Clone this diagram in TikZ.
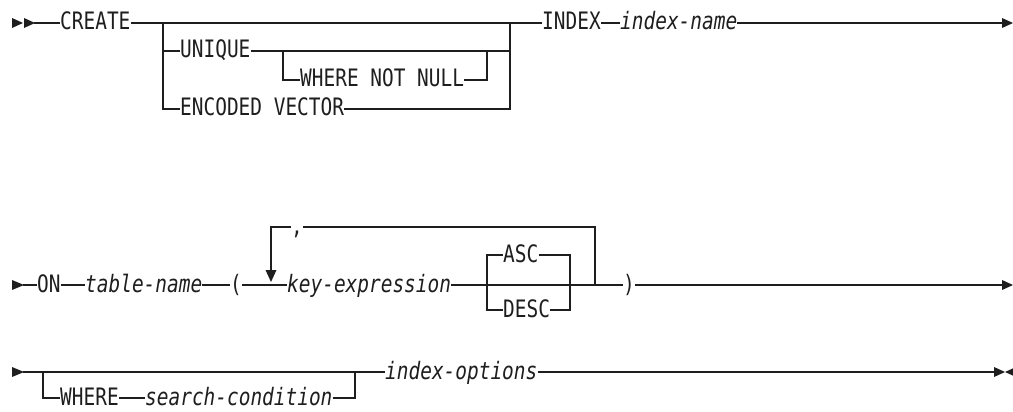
\documentclass[tikz,border=0pt]{standalone}
\usepackage{fontspec}
\newfontfamily\dmono[FakeStretch=0.81]{DejaVu Sans Mono}
\definecolor{ink}{HTML}{1E1E1E}
\begin{document}
\begin{tikzpicture}[x=1pt,y=-1pt,
  kw/.style={anchor=west,inner sep=0pt,text height=14pt,text depth=0pt,font=\dmono\fontsize{24}{26}\selectfont,text=ink},
  var/.style={kw,font=\dmono\itshape\fontsize{24}{26}\selectfont},
  rail/.style={draw=ink,line width=1.3pt},
  tip/.style={fill=ink}]
\useasboundingbox (0,0) rectangle (1013,412);

% ---------- Row 1 ----------
\fill[tip] (12,18) -- (23,23) -- (12,28) -- cycle;
\fill[tip] (24,18) -- (35,23) -- (24,28) -- cycle;
\coordinate (s1) at (34,23);
\node[kw] (create) at (60,23) {CREATE};
\coordinate (j1) at (163,23);
\coordinate (j2) at (510,23);
\node[kw] (unique) at (180,51) {UNIQUE};
\node[kw] (wnn) at (300,80) {WHERE NOT NULL};
\node[kw] (encv) at (180,109) {ENCODED VECTOR};
\node[kw] (index) at (542,23) {INDEX};
\node[var] (iname) at (620,23) {index-name};
\coordinate (e1) at (1003,23);
\fill[tip] (1002,18) -- (1013,23) -- (1002,28) -- cycle;

\draw[rail] (s1) -- (create);
\draw[rail] (create) -- (j1) -- (j2) -- (index);
\draw[rail] (index) -- (iname);
\draw[rail] (iname) -- (e1);
\draw[rail] (j1) |- (unique);
\draw[rail] (j1) |- (encv);
\draw[rail] (encv) -| (j2);
\draw[rail] (unique) -- (unique -| j2);
\coordinate (k1) at (283,51);
\coordinate (k2) at (487,51);
\draw[rail] (k1) |- (wnn);
\draw[rail] (wnn) -| (k2);

% ---------- Row 2 ----------
\fill[tip] (12,280) -- (24,285) -- (12,290) -- cycle;
\coordinate (s2) at (23,285);
\node[kw] (on) at (37,285) {ON};
\node[var] (tname) at (85,285) {table-name};
\node[kw] (lp) at (230,285) {(};
\node[var] (kexp) at (287,285) {key-expression};
\node[kw] (asc) at (503,255) {ASC};
\node[kw] (desc) at (503,310) {DESC};
\coordinate (a1) at (487,285);
\coordinate (a2) at (570,285);
\coordinate (lr) at (595,285);
\node[kw] (comma) at (291,227) {,};
\coordinate (ll) at (271,227);
\coordinate (lt) at (271,271);
\node[kw] (rp) at (623,285) {)};
\coordinate (e2) at (1003,285);
\fill[tip] (1002,280) -- (1013,285) -- (1002,290) -- cycle;

\draw[rail] (s2) -- (on);
\draw[rail] (on) -- (tname);
\draw[rail] (tname) -- (lp);
\draw[rail] (lp) -- (kexp);
\draw[rail] (kexp) -- (a1) -- (a2) -- (lr) -- (rp);
\draw[rail] (a1) |- (asc);
\draw[rail] (a1) |- (desc);
\draw[rail] (asc) -| (a2);
\draw[rail] (desc) -| (a2);
\draw[rail] (lr) |- (comma);
\draw[rail] (comma) -- (ll) -- (lt);
\fill[tip] (265.5,270) -- (276.5,270) -- (271,282) -- cycle;
\draw[rail] (rp) -- (e2);

% ---------- Row 3 ----------
\fill[tip] (12,367) -- (24,372) -- (12,377) -- cycle;
\coordinate (s3) at (23,372);
\coordinate (b1) at (43,372);
\coordinate (b2) at (355,372);
\node[kw] (where) at (60,398) {WHERE};
\node[var] (scond) at (145,398) {search-condition};
\node[var] (iopt) at (385,372) {index-options};
\coordinate (e3) at (995,372);
\fill[tip] (994,367) -- (1005,372) -- (994,377) -- cycle;
\fill[tip] (1016,367) -- (1005,372) -- (1016,377) -- cycle;

\draw[rail] (s3) -- (b1) -- (b2) -- (iopt);
\draw[rail] (b1) |- (where);
\draw[rail] (where) -- (scond);
\draw[rail] (scond) -| (b2);
\draw[rail] (iopt) -- (e3);
\end{tikzpicture}
\end{document}
